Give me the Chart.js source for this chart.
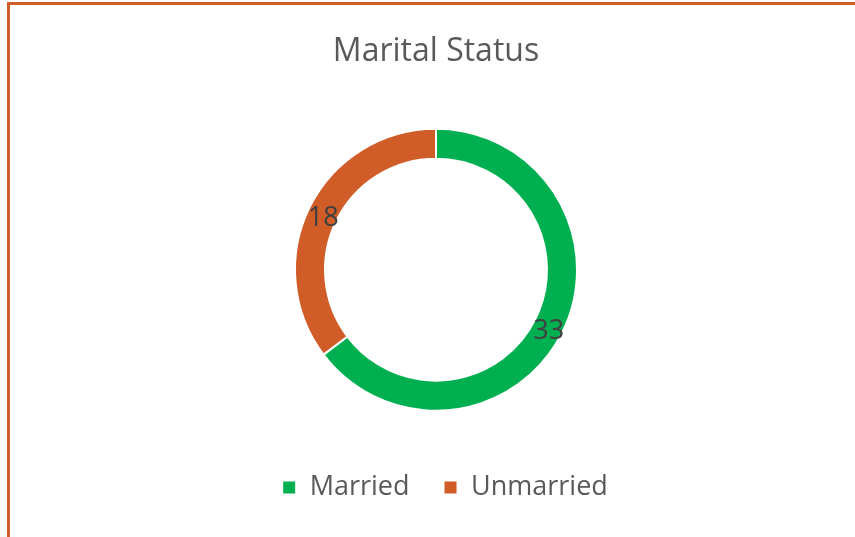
<!DOCTYPE html>
<html>
<head>
<meta charset="utf-8">
<title>Marital Status</title>
<script src="https://cdn.jsdelivr.net/npm/chart.js@4"></script>
<style>
    html, body { margin: 0; padding: 0; background: #fff; overflow: hidden; }
    #wrap { position: relative; width: 855px; height: 537px; }
    #frame {
        position: absolute; left: 7px; top: 2px; width: 900px; height: 600px;
        border-left: 3px solid #D05C28; border-top: 3px solid #D05C28;
        box-sizing: border-box;
    }
    canvas { position: absolute; left: 0; top: 0; }
</style>
</head>
<body>
<div id="wrap">
    <div id="frame"></div>
    <canvas id="maritalChart" width="855" height="537"></canvas>
</div>
<script>
// chart data
const categories = ['Married', 'Unmarried'];
const counts = [33, 18];
const sliceColors = ['#00B050', '#D05C28'];

// draws the value in the middle of each ring segment
const ringLabels = {
    id: 'ringLabels',
    afterDatasetsDraw: function(chart) {
        const ctx = chart.ctx;
        const meta = chart.getDatasetMeta(0);
        ctx.save();
        ctx.font = '27px "Open Sans", sans-serif';
        ctx.fillStyle = '#404040';
        ctx.textAlign = 'center';
        ctx.textBaseline = 'middle';
        meta.data.forEach(function(arc, i) {
            const pos = arc.tooltipPosition();
            ctx.fillText(String(chart.data.datasets[0].data[i]), pos.x, pos.y + 5);
        });
        ctx.restore();
    }
};

// nudge the legend a little to the right, like the original
const legendShift = {
    id: 'legendShift',
    afterLayout: function(chart) {
        if (!chart.legend) return;
        chart.legend.left += 9;
        chart.legend.right += 9;
    }
};

new Chart(document.getElementById('maritalChart'), {
    type: 'doughnut',
    data: {
        labels: categories,
        datasets: [{
            data: counts,
            backgroundColor: sliceColors,
            borderColor: '#ffffff',
            borderWidth: 2,
            radius: 141,
            cutout: '78.7%'
        }]
    },
    options: {
        responsive: false,
        animation: false,
        layout: {
            padding: { left: 17, right: 0, top: 0, bottom: 26 }
        },
        plugins: {
            title: {
                display: true,
                text: 'Marital Status',
                color: '#595959',
                font: { family: '"Open Sans", sans-serif', size: 32, weight: 'normal' },
                padding: { top: 33, bottom: 28 }
            },
            legend: {
                position: 'bottom',
                labels: {
                    color: '#595959',
                    font: { family: '"Open Sans", sans-serif', size: 27 },
                    boxWidth: 14,
                    boxHeight: 14,
                    padding: 34
                }
            },
            tooltip: { enabled: false }
        }
    },
    plugins: [ringLabels, legendShift]
});
</script>
</body>
</html>
